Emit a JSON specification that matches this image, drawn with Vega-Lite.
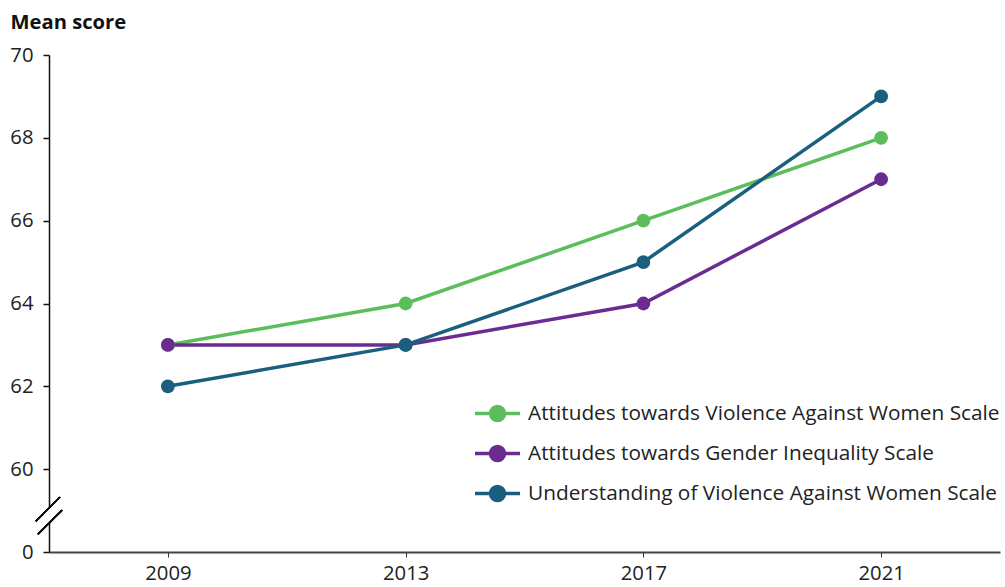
{
  "$schema": "https://vega.github.io/schema/vega-lite/v6.json",
  "width": 951,
  "height": 497,
  "autosize": {"type": "none"},
  "padding": {"left": 49, "top": 55, "right": 5, "bottom": 35},
  "background": "white",
  "config": {
    "font": "Open Sans",
    "view": {"stroke": null},
    "axis": {"labelFont": "Open Sans", "labelColor": "#222222", "titleFont": "Open Sans", "grid": false}
  },
  "data": {
    "values": [
      {"year": 2009, "scale": "Attitudes towards Violence Against Women Scale", "score": 63},
      {"year": 2013, "scale": "Attitudes towards Violence Against Women Scale", "score": 64},
      {"year": 2017, "scale": "Attitudes towards Violence Against Women Scale", "score": 66},
      {"year": 2021, "scale": "Attitudes towards Violence Against Women Scale", "score": 68},
      {"year": 2009, "scale": "Attitudes towards Gender Inequality Scale", "score": 63},
      {"year": 2013, "scale": "Attitudes towards Gender Inequality Scale", "score": 63},
      {"year": 2017, "scale": "Attitudes towards Gender Inequality Scale", "score": 64},
      {"year": 2021, "scale": "Attitudes towards Gender Inequality Scale", "score": 67},
      {"year": 2009, "scale": "Understanding of Violence Against Women Scale", "score": 62},
      {"year": 2013, "scale": "Understanding of Violence Against Women Scale", "score": 63},
      {"year": 2017, "scale": "Understanding of Violence Against Women Scale", "score": 65},
      {"year": 2021, "scale": "Understanding of Violence Against Women Scale", "score": 69}
    ]
  },
  "layer": [
    {
      "mark": {"type": "line", "strokeWidth": 3.5},
      "encoding": {
        "x": {
          "field": "year", "type": "quantitative",
          "scale": {"domain": [2007, 2023], "nice": false, "zero": false},
          "axis": {
            "values": [2009, 2013, 2017, 2021], "format": "d", "title": null,
            "domainColor": "#444444", "domainWidth": 2,
            "tickColor": "#333333", "tickSize": 5, "tickWidth": 1,
            "labelFontSize": 20.3, "labelPadding": 6
          }
        },
        "y": {
          "field": "score", "type": "quantitative",
          "scale": {"domain": [58, 70], "nice": false, "zero": false},
          "axis": {
            "values": [58, 60, 62, 64, 66, 68, 70],
            "labelExpr": "datum.value == 58 ? '0' : datum.label",
            "title": "Mean score", "titleAngle": 0, "titleAlign": "left", "titleBaseline": "alphabetic",
            "titleX": -39, "titleY": -27, "titleFontSize": 20.2, "titleFontWeight": "bold", "titleColor": "#111111",
            "domainColor": "#111111", "domainWidth": 1.5,
            "tickColor": "#111111", "tickSize": 6, "tickWidth": 1.5,
            "labelFontSize": 20.3, "labelPadding": 10
          }
        },
        "color": {
          "field": "scale", "type": "nominal",
          "scale": {
            "domain": ["Attitudes towards Violence Against Women Scale", "Attitudes towards Gender Inequality Scale", "Understanding of Violence Against Women Scale"],
            "range": ["#5cbd5c", "#6a2c91", "#1b5f7e"]
          },
          "legend": {
            "title": null, "orient": "none", "legendX": 424, "legendY": 334,
            "symbolType": "M-1,0H1M0.31,0A0.31,0.31 0 1,1 -0.31,0A0.31,0.31 0 1,1 0.31,0Z",
            "symbolSize": 2025, "symbolStrokeWidth": 3.5,
            "labelFontSize": 20.8, "labelColor": "#222222", "labelOffset": 6, "labelLimit": 0,
            "rowPadding": 1,
            "encode": {
              "symbols": {"update": {"fill": {"scale": "color", "field": "value"}, "stroke": {"scale": "color", "field": "value"}, "opacity": {"value": 1}}}
            }
          }
        }
      }
    },
    {
      "mark": {"type": "point", "filled": true, "opacity": 1, "size": 190},
      "encoding": {
        "x": {"field": "year", "type": "quantitative"},
        "y": {"field": "score", "type": "quantitative"},
        "color": {"field": "scale", "type": "nominal"}
      }
    },
    {
      "mark": {"type": "rule", "color": "white", "strokeWidth": 5, "clip": false},
      "encoding": {
        "x": {"datum": 2007},
        "y": {"datum": 59.06},
        "y2": {"datum": 58.7}
      }
    },
    {
      "mark": {"type": "rule", "color": "#111111", "strokeWidth": 1.3, "clip": false},
      "encoding": {
        "x": {"datum": 2006.78},
        "x2": {"datum": 2007.185},
        "y": {"datum": 58.744},
        "y2": {"datum": 59.324}
      }
    },
    {
      "mark": {"type": "rule", "color": "#111111", "strokeWidth": 1.3, "clip": false},
      "encoding": {
        "x": {"datum": 2006.815},
        "x2": {"datum": 2007.219},
        "y": {"datum": 58.43},
        "y2": {"datum": 59.01}
      }
    }
  ]
}
